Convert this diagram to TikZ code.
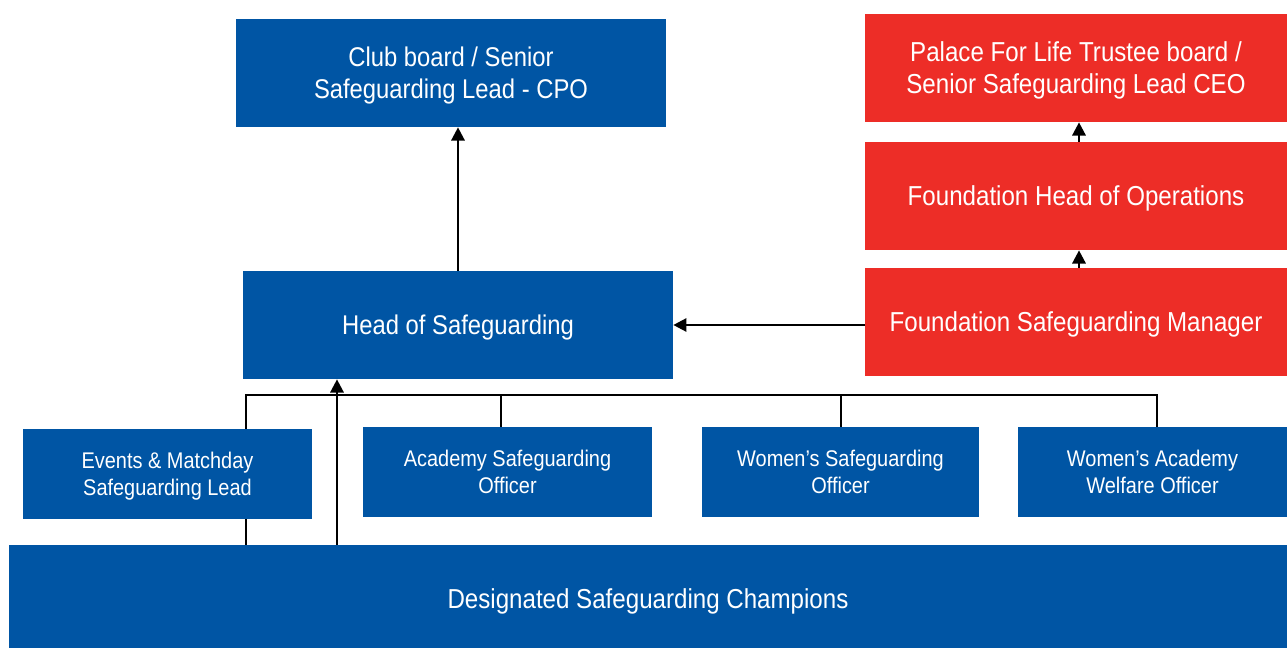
\documentclass[tikz,border=0pt]{standalone}
\usepackage{fontspec}
\setmainfont{Liberation Sans}[FakeStretch=0.88]
\definecolor{cpblue}{RGB}{0,85,164}
\definecolor{cpred}{RGB}{237,45,39}
\usepackage{tikz}
\usetikzlibrary{arrows,arrows.meta,shapes,calc}
\pgfdeclarelayer{bg}
\pgfsetlayers{bg,main}
\tikzstyle{bigbox}=[rectangle,fill=cpblue,text=white,align=center,inner sep=0pt,minimum height=2.16cm,text depth=0pt,font=\fontsize{15.4}{18.2}\selectfont]
\tikzstyle{redbox}=[bigbox,fill=cpred,minimum width=8.44cm,font=\fontsize{15.6}{18.2}\selectfont]
\tikzstyle{smallbox}=[bigbox,minimum height=1.8cm,font=\fontsize{12.9}{15.4}\selectfont]
\tikzstyle{edge} = [draw,line width=1.4pt,-]
\tikzstyle{arrow} = [draw,line width=1.4pt,-{Triangle[length=7.5pt,width=7.5pt]}]

\begin{document}
\begin{tikzpicture}[x=0.02cm,y=-0.02cm]

            \path [use as bounding box] (0,0) rectangle (1287,648);

            % club side
            \node[bigbox,minimum width=8.6cm] (club) at (451,73) {Club board / Senior\\Safeguarding Lead - CPO};
            \node[bigbox,minimum width=8.6cm] (head) at (458,325) {Head of Safeguarding};

            % foundation side
            \node[redbox] (palace) at (1076,68) {Palace For Life Trustee board /\\Senior Safeguarding Lead CEO};
            \node[redbox] (ops) at (1076,196) {Foundation Head of Operations};
            \node[redbox] (fsm) at (1076,322) {Foundation Safeguarding Manager};

            % officers
            \node[smallbox,minimum width=5.78cm] (events) at (167.5,474) {Events \& Matchday\\Safeguarding Lead};
            \node[smallbox,minimum width=5.78cm] (academy) at (507.5,472) {Academy Safeguarding\\Officer};
            \node[smallbox,minimum width=5.54cm] (women) at (840.5,472) {Women’s Safeguarding\\Officer};
            \node[smallbox,minimum width=5.38cm] (wacad) at (1152.5,472) {Women’s Academy\\Welfare Officer};

            \node[bigbox,minimum width=25.56cm,minimum height=2.06cm,text height=14pt,font=\fontsize{15.6}{18.2}\selectfont] (champ) at (648,596.5) {Designated Safeguarding Champions};

            \coordinate (b1) at (246,395);
            \coordinate (b2) at (501,395);
            \coordinate (b3) at (841,395);
            \coordinate (b4) at (1157,395);
            \coordinate (up) at (337,0);
            \coordinate (rx) at (1079,0);

            \begin{pgfonlayer}{bg}
                \path[edge] (b1 |- champ.north) -- (b1) -- (b4) -- (b4 |- wacad.north);
            \end{pgfonlayer}
            \path[edge] (b2) -- (b2 |- academy.north);
            \path[edge] (b3) -- (b3 |- women.north);

            \path[arrow] (head.north) -- (head.north |- club.south);
            \path[arrow] (head.east -| fsm.west) -- (head.east);
            \path[arrow] (fsm.north -| rx) -- (ops.south -| rx);
            \path[arrow] (ops.north -| rx) -- (palace.south -| rx);
            \path[arrow] (champ.north -| up) -- (head.south -| up);

\end{tikzpicture}
\end{document}
